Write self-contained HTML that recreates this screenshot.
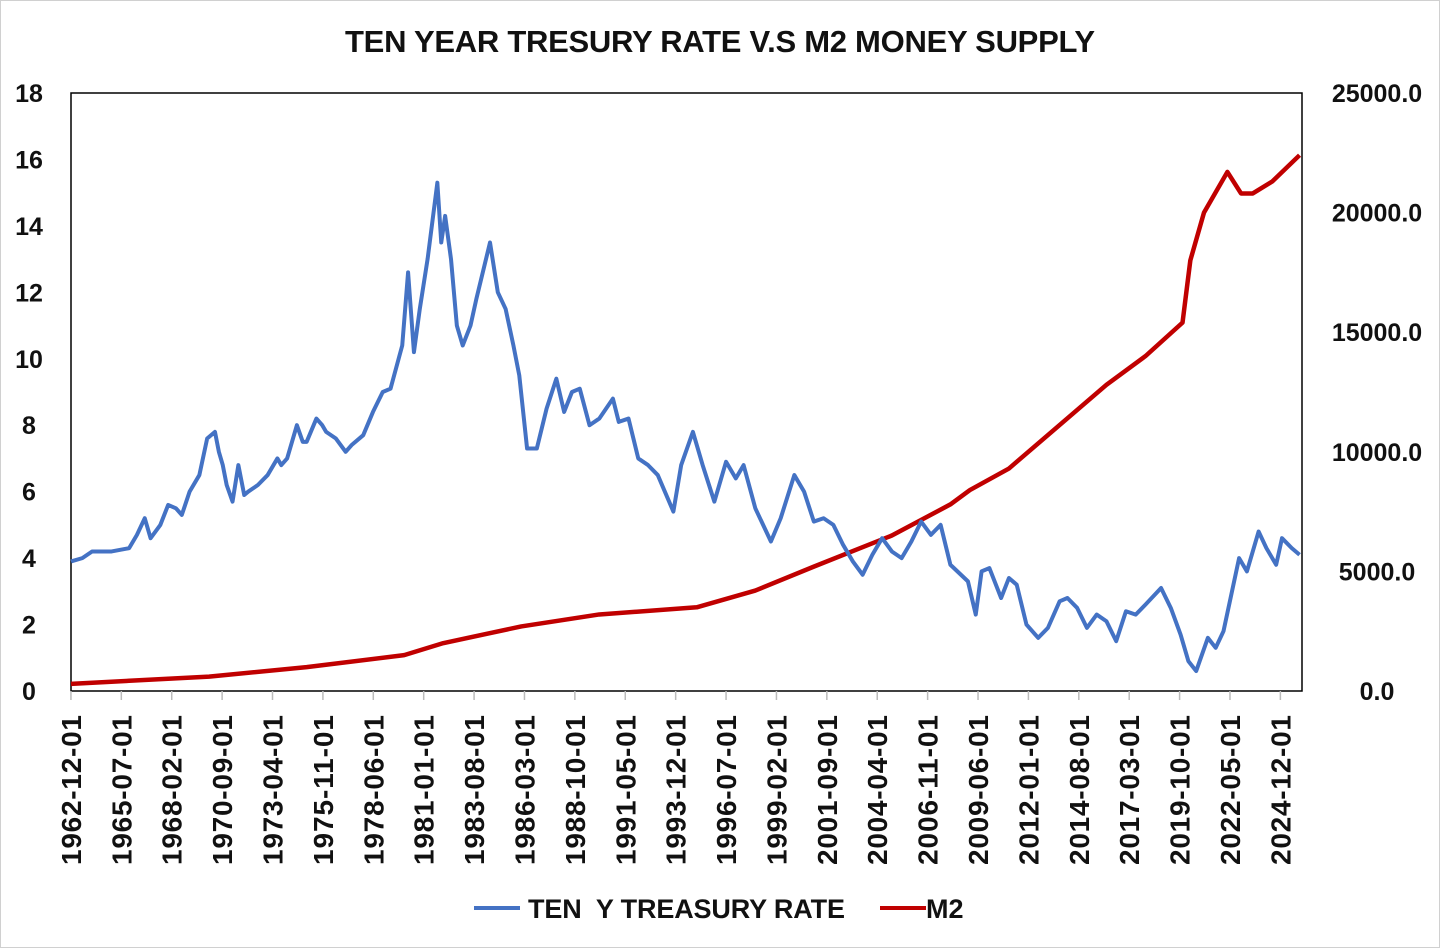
<!DOCTYPE html>
<html><head><meta charset="utf-8"><style>
html,body{margin:0;padding:0;background:#fff;}
svg{display:block;font-family:"Liberation Sans",sans-serif;font-weight:bold;}
</style></head><body>
<svg id="c" width="1440" height="948" viewBox="0 0 1440 948">
<rect x="0.5" y="0.5" width="1439" height="947" fill="#fff" stroke="#d0d0d0"/>
<text x="720" y="52" text-anchor="middle" font-size="31" textLength="750" fill="#111">TEN YEAR TRESURY RATE V.S M2 MONEY SUPPLY</text>
<g id="axes"></g>
<g id="series"></g>
<g>
<line x1="474" y1="908" x2="520" y2="908" stroke="#4472C4" stroke-width="4"/>
<text x="528" y="918" font-size="27" textLength="317" fill="#111">TEN&#160; Y TREASURY RATE</text>
<line x1="880" y1="908" x2="926" y2="908" stroke="#C00000" stroke-width="4"/>
<text x="926" y="918" font-size="27" fill="#111">M2</text>
</g>
</svg>
<script>
const rateDates=[1962.92,1963.5,1964,1965,1965.9,1966.3,1966.7,1967,1967.5,1967.9,1968.3,1968.6,1969,1969.5,1969.9,1970.3,1970.5,1970.7,1970.9,1971.2,1971.5,1971.8,1972,1972.5,1973,1973.5,1973.7,1974,1974.5,1974.8,1975,1975.5,1975.8,1976,1976.5,1977,1977.3,1977.9,1978.4,1978.9,1979.3,1979.9,1980.2,1980.5,1980.8,1981.2,1981.7,1981.9,1982.1,1982.4,1982.7,1983,1983.4,1983.7,1984.4,1984.8,1985.2,1985.6,1985.9,1986.3,1986.8,1987.3,1987.8,1988.2,1988.6,1989,1989.5,1990,1990.7,1991,1991.5,1992,1992.5,1993,1993.8,1994.2,1994.8,1995.3,1995.9,1996.5,1997,1997.4,1998,1998.8,1999.3,2000,2000.5,2001,2001.5,2002,2002.5,2003,2003.5,2004,2004.5,2005,2005.5,2006,2006.5,2007,2007.5,2008,2008.9,2009.3,2009.6,2010,2010.6,2011,2011.4,2011.9,2012.5,2013,2013.6,2014,2014.5,2015,2015.5,2016,2016.5,2017,2017.5,2018,2018.8,2019.3,2019.8,2020.2,2020.6,2021.2,2021.6,2022,2022.4,2022.8,2023.2,2023.8,2024.2,2024.7,2025,2025.5,2025.9];
const rateValues=[3.9,4.0,4.2,4.2,4.3,4.7,5.2,4.6,5.0,5.6,5.5,5.3,6.0,6.5,7.6,7.8,7.2,6.8,6.2,5.7,6.8,5.9,6.0,6.2,6.5,7.0,6.8,7.0,8.0,7.5,7.5,8.2,8.0,7.8,7.6,7.2,7.4,7.7,8.4,9.0,9.1,10.4,12.6,10.2,11.5,13.0,15.3,13.5,14.3,13.0,11.0,10.4,11.0,11.8,13.5,12.0,11.5,10.4,9.5,7.3,7.3,8.5,9.4,8.4,9.0,9.1,8.0,8.2,8.8,8.1,8.2,7.0,6.8,6.5,5.4,6.8,7.8,6.8,5.7,6.9,6.4,6.8,5.5,4.5,5.2,6.5,6.0,5.1,5.2,5.0,4.4,3.9,3.5,4.1,4.6,4.2,4.0,4.5,5.1,4.7,5.0,3.8,3.3,2.3,3.6,3.7,2.8,3.4,3.2,2.0,1.6,1.9,2.7,2.8,2.5,1.9,2.3,2.1,1.5,2.4,2.3,2.6,3.1,2.5,1.7,0.9,0.6,1.6,1.3,1.8,2.9,4.0,3.6,4.8,4.3,3.8,4.6,4.3,4.1];
const m2Dates=[1962.92,1970,1975,1980,1982,1986,1990,1995,1998,2001,2005,2008,2009,2011,2013,2016,2018,2019.9,2020.3,2021,2022.2,2022.9,2023.5,2024.5,2025.9];
const m2Values=[300,600,1000,1500,2000,2700,3200,3500,4200,5200,6500,7800,8400,9300,10700,12800,14000,15400,18000,20000,21700,20800,20800,21300,22400];
const leftTicks=[0,2,4,6,8,10,12,14,16,18];
const rightTicks=[0,5000,10000,15000,20000,25000];
const xLabels=["1962-12-01","1965-07-01","1968-02-01","1970-09-01","1973-04-01","1975-11-01","1978-06-01","1981-01-01","1983-08-01","1986-03-01","1988-10-01","1991-05-01","1993-12-01","1996-07-01","1999-02-01","2001-09-01","2004-04-01","2006-11-01","2009-06-01","2012-01-01","2014-08-01","2017-03-01","2019-10-01","2022-05-01","2024-12-01"];
const L=71,R=1302,T=93,B=691,ppm=1.6256,start=1962.92;
const x=d=>L+(d-start)*12*ppm;
const yl=v=>B-(v/18)*(B-T);
const yr=v=>B-(v/25000)*(B-T);
const ns="http://www.w3.org/2000/svg";
const ax=document.getElementById('axes'),se=document.getElementById('series');
function mk(t,a,p){const e=document.createElementNS(ns,t);for(const k in a)e.setAttribute(k,a[k]);p.appendChild(e);return e;}
const frame=mk('rect',{x:L,y:T,width:R-L,height:B-T,fill:'none',stroke:'#000','stroke-width':1.5},ax);


leftTicks.forEach(v=>{const t=mk('text',{x:29,y:yl(v)+9,'text-anchor':'middle','font-size':25,fill:'#111'},ax);t.textContent=v;

});
rightTicks.forEach(v=>{const t=mk('text',{x:1377,y:yr(v)+9,'text-anchor':'middle','font-size':25,fill:'#111'},ax);t.textContent=v.toFixed(1);

});
xLabels.forEach(s=>{const p=s.split('-');const d=+p[0]+(+p[1]-1)/12;const xx=x(d);
const tk=mk('line',{x1:xx,y1:B,x2:xx,y2:B+9,stroke:'#bbb','stroke-width':1.5},ax);


const t=mk('text',{x:0,y:0,'text-anchor':'end','font-size':28,textLength:150,fill:'#111',transform:`translate(${xx+10},${B+24}) rotate(-90)`},ax);t.textContent=s;

});
const m2p=mk('polyline',{points:m2Dates.map((d,i)=>x(d)+','+yr(m2Values[i])).join(' '),fill:'none',stroke:'#C00000','stroke-width':4.5,'stroke-linejoin':'round'},se);


const rp=mk('polyline',{points:rateDates.map((d,i)=>x(d)+','+yl(rateValues[i])).join(' '),fill:'none',stroke:'#4472C4','stroke-width':4,'stroke-linejoin':'round'},se);


</script>
</body></html>
